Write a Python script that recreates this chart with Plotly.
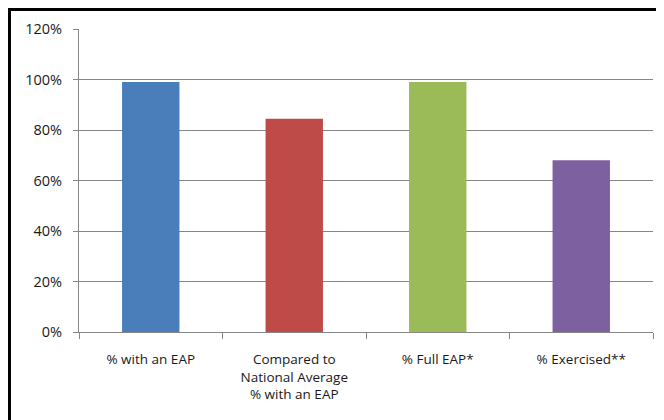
import plotly.graph_objects as go

categories = ["% with an EAP", "Compared to<br>National Average<br>% with an EAP", "% Full EAP*", "% Exercised**"]
values = [0.99, 0.845, 0.99, 0.68]
colors = ["#4A7EBB", "#BE4B48", "#9BBB59", "#7D60A0"]
y_ticks = [0, 0.2, 0.4, 0.6, 0.8, 1.0, 1.2]
y_tick_labels = ["0%", "20%", "40%", "60%", "80%", "100%", "120%"]

# The page body has an 8px default margin, so the figure is 656x412 placed at (8,8).
fig = go.Figure(go.Bar(x=categories, y=values, marker=dict(color=colors, line=dict(width=0)),
                       width=0.4))

fig.update_layout(
    width=656, height=412,
    margin=dict(l=71, r=11, t=21, b=88),
    paper_bgcolor="white", plot_bgcolor="white",
    font=dict(family="Open Sans, Liberation Sans, sans-serif", size=13, color="#1a1a1a"),
    showlegend=False,
    shapes=[dict(type="rect", xref="paper", yref="paper",
                 x0=-0.1211, x1=2, y0=-2, y1=1.0644,
                 line=dict(color="black", width=3), layer="below")],
)
fig.update_xaxes(showline=True, linecolor="#868686", linewidth=1,
                 ticks="outside", ticklen=6, tickcolor="#868686", tickson="boundaries",
                 ticklabelstandoff=15, tickfont=dict(size=13.5))
fig.update_yaxes(range=[0, 1.2], tickvals=y_ticks, ticktext=y_tick_labels,
                 showline=True, linecolor="#868686", linewidth=1,
                 showgrid=True, gridcolor="#868686", gridwidth=1,
                 ticks="outside", ticklen=5, tickcolor="#868686",
                 ticklabelstandoff=8, tickfont=dict(size=14.5), zeroline=False)

fig.write_html("out.html")
